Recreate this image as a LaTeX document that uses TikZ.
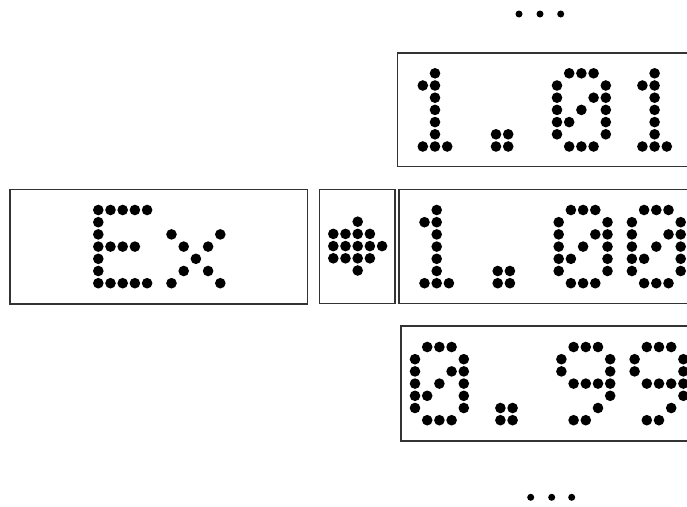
\documentclass[tikz,border=0pt]{standalone}
\tikzset{
  x=1pt, y=-1pt,
  dmdot/.style={fill=black},
  smalldot/.style={fill=black},
  framebox/.style={draw=black!80, line width=1.3pt},
}
\def\dmp{12.2}
\def\dmr{5.3pt}
\def\dmE{0/0,1/0,2/0,3/0,4/0,0/1,0/2,0/3,1/3,2/3,3/3,0/4,0/5,0/6,1/6,2/6,3/6,4/6}
\def\dmx{0/2,4/2,1/3,3/3,2/4,1/5,3/5,0/6,4/6}
\def\dmOne{2/0,1/1,2/1,2/2,2/3,2/4,2/5,1/6,2/6,3/6}
\def\dmPoint{1/5,2/5,1/6,2/6}
\def\dmZero{1/0,2/0,3/0,0/1,4/1,0/2,3/2,4/2,0/3,2/3,4/3,0/4,1/4,4/4,0/5,4/5,1/6,2/6,3/6}
\def\dmNine{1/0,2/0,3/0,0/1,4/1,0/2,4/2,1/3,2/3,3/3,4/3,4/4,3/5,1/6,2/6}
\def\dmArrow{2/0,0/1,1/1,2/1,3/1,0/2,1/2,2/2,3/2,4/2,0/3,1/3,2/3,3/3,2/4}
\newcommand{\dmglyph}[3]{%
  \foreach \dmcol/\dmrow in #3 {%
    \fill[dmdot] ({#1+\dmcol*\dmp},{#2+\dmrow*\dmp}) circle (\dmr);
  }%
}
\begin{document}
\begin{tikzpicture}
\useasboundingbox (0,0) rectangle (687,506);
\clip (0,0) rectangle (687,506);
% frames
\draw[framebox] (10,189.3) rectangle (307.5,304);
\draw[framebox] (319.3,189.3) rectangle (395,303.5);
\draw[framebox] (397.5,53) rectangle (720,166.7);
\draw[framebox] (399,189.3) rectangle (720,303.5);
\draw[framebox] (401,326) rectangle (720,441);
% Ex
\dmglyph{98.3}{210}{\dmE}
\dmglyph{171.5}{210}{\dmx}
% arrow
\dmglyph{333.3}{221.7}{\dmArrow}
% 1.01
\dmglyph{410.6}{73.3}{\dmOne}
\dmglyph{483.8}{73.3}{\dmPoint}
\dmglyph{557.0}{73.3}{\dmZero}
\dmglyph{630.2}{73.3}{\dmOne}
% 1.00
\dmglyph{412.3}{210}{\dmOne}
\dmglyph{485.5}{210}{\dmPoint}
\dmglyph{558.7}{210}{\dmZero}
\dmglyph{631.9}{210}{\dmZero}
% 0.99
\dmglyph{415}{347}{\dmZero}
\dmglyph{488.2}{347}{\dmPoint}
\dmglyph{561.4}{347}{\dmNine}
\dmglyph{634.6}{347}{\dmNine}
% ellipses
\foreach \ex in {519,540,560.7} {\fill[smalldot] (\ex,14) circle (3.5pt);}
\foreach \ex in {530.7,551.7,571.7} {\fill[smalldot] (\ex,497.3) circle (3.5pt);}
\end{tikzpicture}
\end{document}
